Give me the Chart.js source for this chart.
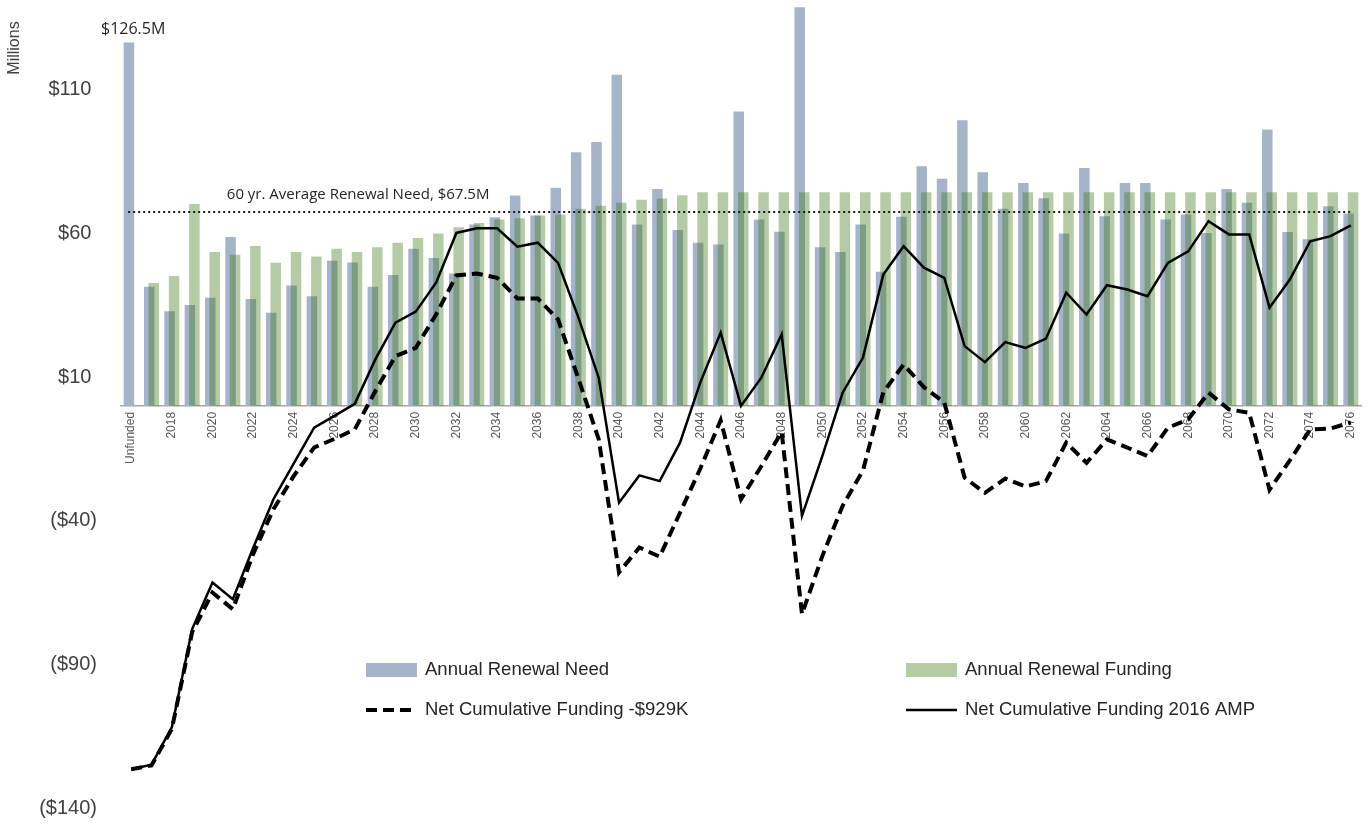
<!DOCTYPE html>
<html>
<head>
<meta charset="utf-8">
<title>Annual Renewal Need and Net Cumulative Funding</title>
<script src="https://cdn.jsdelivr.net/npm/chart.js@4.4.1/dist/chart.umd.min.js"></script>
<style>
  html, body { margin: 0; padding: 0; background: #ffffff; }
  #wrap { width: 1367px; height: 825px; }
</style>
</head>
<body>
<div id="wrap"><canvas id="renewal-chart" width="1367" height="825"></canvas></div>
<script>
// Categories: the unfunded backlog, then one pair of bars per year
var categories = ['Unfunded',
    '2017', '2018', '2019', '2020', '2021', '2022', '2023', '2024', '2025', '2026',
    '2027', '2028', '2029', '2030', '2031', '2032', '2033', '2034', '2035', '2036',
    '2037', '2038', '2039', '2040', '2041', '2042', '2043', '2044', '2045', '2046',
    '2047', '2048', '2049', '2050', '2051', '2052', '2053', '2054', '2055', '2056',
    '2057', '2058', '2059', '2060', '2061', '2062', '2063', '2064', '2065', '2066',
    '2067', '2068', '2069', '2070', '2071', '2072', '2073', '2074', '2075', '2076'];

// $ millions
var renewalNeed = [126.5,
    41.5, 32.9, 35.1, 37.6, 58.8, 37.2, 32.4, 41.9, 38.2, 50.5,
    49.9, 41.5, 45.6, 54.7, 51.5, 46.1, 63.1, 65.7, 73.2, 66.3,
    75.9, 88.3, 91.9, 115.3, 63.1, 75.5, 61.2, 56.8, 56.2, 102.5,
    64.9, 60.6, 138.8, 55.2, 53.6, 63.1, 46.7, 65.8, 83.4, 79.1,
    99.4, 81.3, 68.6, 77.6, 72.3, 60.0, 82.8, 66.0, 77.6, 77.6,
    64.9, 66.6, 60.2, 75.5, 70.7, 96.2, 60.5, 58.0, 69.5, 67.0];

var renewalFunding = [null,
    42.8, 45.2, 70.3, 53.6, 52.6, 55.7, 49.8, 53.6, 52.0, 54.7,
    53.6, 55.2, 56.8, 58.4, 60.0, 62.2, 63.7, 64.9, 65.3, 66.3,
    66.6, 68.6, 69.7, 70.7, 71.8, 72.2, 73.3, 74.4, 74.4, 74.4,
    74.4, 74.4, 74.4, 74.4, 74.4, 74.4, 74.4, 74.4, 74.4, 74.4,
    74.4, 74.4, 74.4, 74.4, 74.4, 74.4, 74.4, 74.4, 74.4, 74.4,
    74.4, 74.4, 74.4, 74.4, 74.4, 74.4, 74.4, 74.4, 74.4, 74.4];

var netCumulativeReduced = [-126.5,
    -125.2, -112.5, -78.8, -65.0, -70.8, -51.6, -36.0, -24.4, -14.5, -11.5,
    -8.2, 5.0, 17.3, 20.2, 31.8, 45.4, 46.1, 44.6, 37.4, 37.4,
    30.1, 9.5, -11.6, -58.0, -49.3, -52.5, -37.2, -21.8, -5.0, -32.5,
    -21.0, -9.1, -72.5, -52.3, -34.8, -22.5, 4.7, 14.4, 6.5, 1.2,
    -25.0, -30.3, -25.3, -28.1, -26.2, -12.8, -19.8, -11.7, -14.5, -17.5,
    -7.6, -4.7, 4.6, -1.2, -2.4, -29.2, -19.0, -8.2, -7.9, -5.8];

var netCumulative2016 = [-126.5,
    -124.9, -111.9, -77.7, -61.5, -67.3, -49.5, -32.5, -20.0, -7.6, -3.5,
    0.7, 16.0, 29.0, 32.8, 42.9, 60.2, 61.8, 61.8, 55.4, 56.8,
    49.8, 30.8, 9.8, -33.7, -24.2, -26.2, -12.8, 8.2, 25.5, 0.0,
    9.8, 24.9, -38.3, -17.5, 4.6, 16.8, 45.7, 55.6, 48.1, 44.6,
    20.8, 15.2, 22.2, 20.2, 23.4, 39.4, 31.8, 42.0, 40.5, 38.2,
    49.8, 53.8, 64.3, 59.7, 59.7, 34.2, 44.0, 57.3, 59.1, 62.8];

var yTicks = [-140, -90, -40, 10, 60, 110];
var averageNeed = 67.5;

var needColor = '#a6b4c9';
var fundingColor = 'rgba(58, 118, 21, 0.38)';
var textColor = '#404040';

function money(v) {
    return v < 0 ? '($' + Math.abs(v) + ')' : '$' + v + ' ';
}

// need bars sit left in each pair, but funding bars must be painted over them
var barLayering = {
    id: 'barLayering',
    beforeDatasetDraw: function (chart, args) {
        if (args.index === 1) return false;
    },
    afterDatasetDraw: function (chart, args) {
        if (args.index === 0) {
            chart.getDatasetMeta(1).controller.draw();
        }
    }
};

// dotted average line, notes, axis unit and the legend
var extras = {
    id: 'extras',
    afterDatasetsDraw: function (chart) {
        var ctx = chart.ctx;
        var xs = chart.scales.x;
        var ys = chart.scales.y;
        ctx.save();

        var yAvg = ys.getPixelForValue(averageNeed);
        ctx.strokeStyle = '#1a1a1a';
        ctx.lineWidth = 2;
        ctx.setLineDash([2, 3]);
        ctx.beginPath();
        ctx.moveTo(xs.getPixelForValue(0) - 3, yAvg);
        ctx.lineTo(xs.getPixelForValue(categories.length - 1), yAvg);
        ctx.stroke();
        ctx.setLineDash([]);

        ctx.fillStyle = '#262626';
        ctx.font = '15px "Open Sans"';
        ctx.textAlign = 'left';
        ctx.textBaseline = 'bottom';
        ctx.fillText('60 yr. Average Renewal Need, $' + averageNeed + 'M', xs.getPixelForValue(5) - 6, yAvg - 10);

        ctx.textAlign = 'center';
        ctx.font = '16px "Open Sans"';
        ctx.fillText('$' + renewalNeed[0] + 'M', xs.getPixelForValue(0) + 2, ys.getPixelForValue(renewalNeed[0]) - 5);

        ctx.save();
        ctx.translate(15, 48);
        ctx.rotate(-Math.PI / 2);
        ctx.fillStyle = textColor;
        ctx.font = '16px "Liberation Sans"';
        ctx.textBaseline = 'middle';
        ctx.fillText('Millions', 0, 0);
        ctx.restore();

        // legend, two columns
        var items = chart.data.datasets;
        var cols = [366, 906];
        var rows = [670, 710];
        ctx.font = '18.5px "Liberation Sans"';
        ctx.textAlign = 'left';
        ctx.textBaseline = 'middle';
        items.forEach(function (ds, n) {
            var lx = cols[n % 2];
            var ly = rows[Math.floor(n / 2)];
            if (ds.type === 'bar') {
                ctx.fillStyle = ds.backgroundColor;
                ctx.fillRect(lx, ly - 7, 51, 14);
            } else {
                ctx.strokeStyle = ds.borderColor;
                ctx.lineWidth = ds.borderWidth;
                ctx.setLineDash(ds.borderDash || []);
                ctx.beginPath();
                ctx.moveTo(lx, ly);
                ctx.lineTo(lx + 51, ly);
                ctx.stroke();
                ctx.setLineDash([]);
            }
            ctx.fillStyle = '#262626';
            ctx.fillText(ds.label, lx + 59, ly);
        });

        ctx.restore();
    }
};

var ctx = document.getElementById('renewal-chart').getContext('2d');
var renewalChart = new Chart(ctx, {
    data: {
        labels: categories,
        datasets: [{
            type: 'bar',
            label: 'Annual Renewal Need',
            data: renewalNeed,
            backgroundColor: needColor,
            categoryPercentage: 0.44,
            barPercentage: 2.35,
            order: 2
        }, {
            type: 'bar',
            label: 'Annual Renewal Funding',
            data: renewalFunding,
            backgroundColor: fundingColor,
            categoryPercentage: 0.44,
            barPercentage: 2.35,
            order: 3
        }, {
            type: 'line',
            label: 'Net Cumulative Funding -$929K',
            data: netCumulativeReduced,
            borderColor: '#000000',
            borderWidth: 4,
            borderDash: [11, 6],
            pointRadius: 0,
            tension: 0,
            fill: false,
            order: 1
        }, {
            type: 'line',
            label: 'Net Cumulative Funding 2016 AMP',
            data: netCumulative2016,
            borderColor: '#000000',
            borderWidth: 2.5,
            pointRadius: 0,
            tension: 0,
            fill: false,
            order: 0
        }]
    },
    options: {
        responsive: false,
        animation: false,
        layout: { padding: { top: 0, right: 6, bottom: 0, left: 0 } },
        plugins: {
            legend: { display: false },
            tooltip: { enabled: false }
        },
        scales: {
            x: {
                type: 'category',
                position: { y: 0 },
                offset: true,
                grid: { display: true, drawOnChartArea: false, drawTicks: false },
                border: { display: true, color: '#a6a6a6', width: 1.5 },
                ticks: {
                    autoSkip: false,
                    minRotation: 90,
                    maxRotation: 90,
                    padding: 6,
                    color: '#595959',
                    font: { family: 'Liberation Sans', size: 12 },
                    callback: function (v, i) { return i % 2 === 0 ? categories[i] : ''; }
                },
                afterFit: function (s) { s.paddingLeft = 0; s.paddingRight = 0; }
            },
            y: {
                min: -140,
                max: 141.3,
                grid: { display: true, drawOnChartArea: false, drawTicks: true, tickLength: 20, tickColor: 'rgba(0,0,0,0)' },
                border: { display: false },
                ticks: {
                    padding: 4,
                    color: textColor,
                    font: { family: 'Liberation Sans', size: 20 },
                    callback: function (v) { return money(v); }
                },
                afterBuildTicks: function (s) {
                    s.ticks = yTicks.map(function (v) { return { value: v }; });
                },
                afterFit: function (s) {
                    s.width = 121;
                    s.paddingTop = 0;
                    s.paddingBottom = 17;
                }
            }
        }
    },
    plugins: [barLayering, extras]
});
</script>
</body>
</html>
